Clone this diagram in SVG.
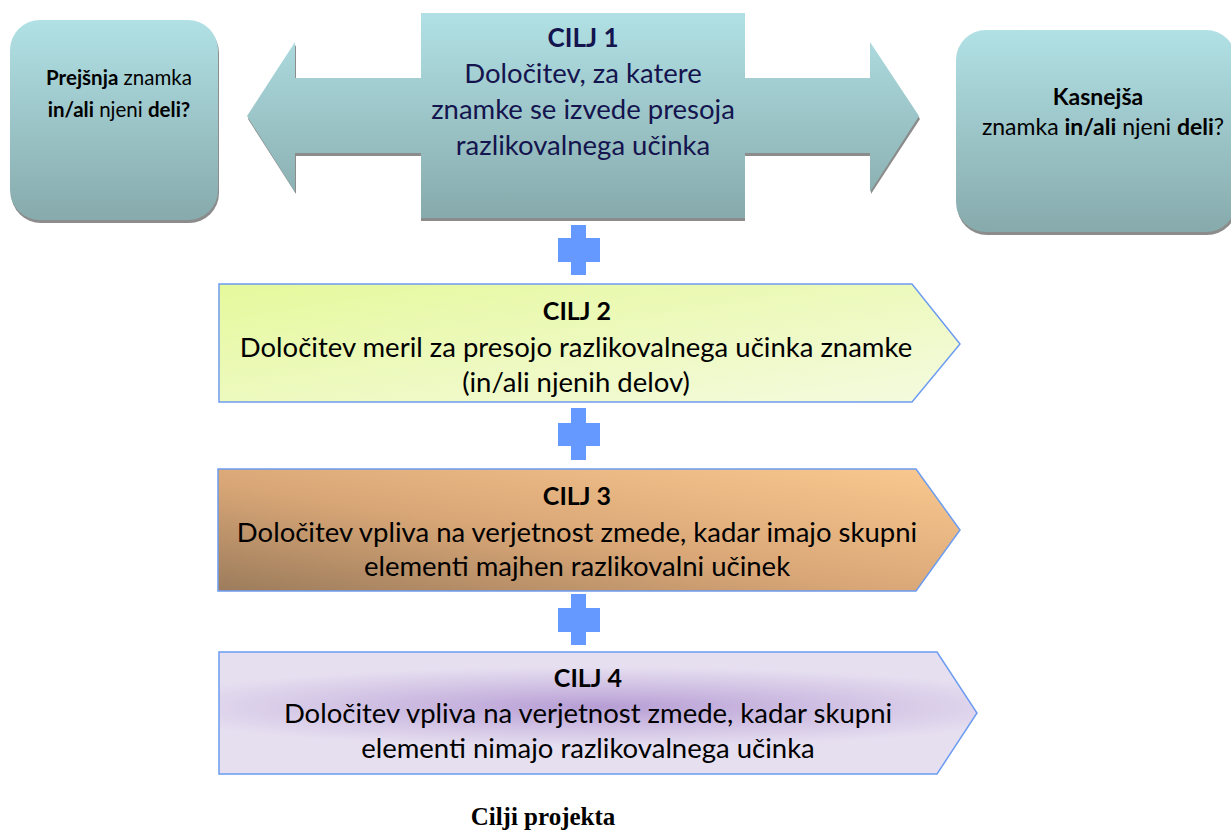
<svg xmlns="http://www.w3.org/2000/svg" width="1231" height="830" viewBox="0 0 1231 830">
<defs>
<linearGradient id="teal" x1="0" y1="0" x2="0" y2="1">
<stop offset="0" stop-color="#b1e1e5"/>
<stop offset="1" stop-color="#87aaac"/>
</linearGradient>
<linearGradient id="tealA" gradientUnits="userSpaceOnUse" x1="0" y1="13" x2="0" y2="218">
<stop offset="0" stop-color="#b1e1e5"/>
<stop offset="1" stop-color="#87aaac"/>
</linearGradient>
<linearGradient id="g2" x1="0" y1="0" x2="1" y2="1">
<stop offset="0" stop-color="#e6f99c"/>
<stop offset="1" stop-color="#f4fae0"/>
</linearGradient>
<linearGradient id="g3" x1="0" y1="1" x2="1" y2="0">
<stop offset="0" stop-color="#9c7c5c"/>
<stop offset="0.45" stop-color="#d9a777"/>
<stop offset="1" stop-color="#fac990"/>
</linearGradient>
<radialGradient id="g4" cx="0.5" cy="0.45" r="0.6" gradientTransform="translate(0.5 0.45) scale(1 0.55) translate(-0.5 -0.45)">
<stop offset="0" stop-color="#b69dd4"/>
<stop offset="0.35" stop-color="#c9b6df"/>
<stop offset="1" stop-color="#e6dff0"/>
</radialGradient>
<style>
.sh{fill:#8c8c8c}
.box{stroke:#6c9cf0;stroke-width:1.5}
.plus{fill:#6699ff}
.t{font-family:Lato,"Open Sans",sans-serif;text-anchor:middle;fill:#000}
.b{font-weight:bold}
.c1{fill:#14144e}
</style>
</defs>

<g id="left-box">
<rect class="sh" x="11" y="23" width="208" height="200" rx="30"/>
<rect x="10" y="20" width="208" height="200" rx="30" fill="url(#teal)"/>
<text class="t" font-size="20.5" x="119" y="85"><tspan class="b">Prejšnja</tspan> znamka</text>
<text class="t" font-size="20.5" x="119" y="117"><tspan class="b">in/ali</tspan> njeni <tspan class="b">deli?</tspan></text>
</g>

<g id="right-box">
<rect class="sh" x="957" y="33" width="280" height="202" rx="30"/>
<rect x="956" y="30" width="280" height="202" rx="30" fill="url(#teal)"/>
<text class="t b" font-size="23" x="1098" y="105">Kasnejša</text>
<text class="t" font-size="23" x="1103" y="135">znamka <tspan class="b">in/ali</tspan> njeni <tspan class="b">deli</tspan>?</text>
</g>

<g id="cilj1">
<polygon class="sh" points="248,119 296,194 296,156 871,156 871,194 920,119 871,45 871,81 296,81 296,45"/>
<polygon points="247,116 295,42 295,78 870,78 870,42 919,116 870,192 870,153 295,153 295,192" fill="url(#tealA)"/>
<rect class="sh" x="421" y="16" width="324" height="205"/>
<rect x="421" y="13" width="324" height="205" fill="url(#tealA)"/>
<text class="t c1 b" font-size="26" x="583" y="47">CILJ 1</text>
<text class="t c1" font-size="27.5" x="583" y="83">Določitev, za katere</text>
<text class="t c1" font-size="27.5" x="583" y="119">znamke se izvede presoja</text>
<text class="t c1" font-size="27.5" x="583" y="155">razlikovalnega učinka</text>
</g>

<g id="connectors">
<path class="plus" d="M571,225h15v13h14v24h-14v13h-15v-13h-13v-24h13z"/>
<path class="plus" d="M571,408h15v15h14v23h-14v14h-15v-14h-13v-23h13z"/>
<path class="plus" d="M571,594h15v14h14v24h-14v13h-15v-13h-13v-24h13z"/>
</g>

<g id="cilj2">
<polygon class="box" points="219,284 912,284 960,344 912,402 219,402" fill="url(#g2)"/>
<text class="t b" font-size="25" x="577" y="320">CILJ 2</text>
<text class="t" font-size="27.5" x="576" y="357">Določitev meril za presojo razlikovalnega učinka znamke</text>
<text class="t" font-size="27.5" x="576" y="392">(in/ali njenih delov)</text>
</g>

<g id="cilj3">
<polygon class="box" points="218,469 916,469 960,530 916,591 218,591" fill="url(#g3)"/>
<text class="t b" font-size="25" x="577" y="505">CILJ 3</text>
<text class="t" font-size="27.5" x="577" y="542">Določitev vpliva na verjetnost zmede, kadar imajo skupni</text>
<text class="t" font-size="27.5" x="577" y="576">elementi majhen razlikovalni učinek</text>
</g>

<g id="cilj4">
<polygon class="box" points="219,652 937,652 977,713 937,774 219,774" fill="url(#g4)"/>
<text class="t b" font-size="25" x="588" y="687">CILJ 4</text>
<text class="t" font-size="27.5" x="588" y="723">Določitev vpliva na verjetnost zmede, kadar skupni</text>
<text class="t" font-size="27.5" x="588" y="758">elementi nimajo razlikovalnega učinka</text>
</g>

<text x="543" y="825" font-family="Liberation Serif,serif" font-weight="bold" font-size="25" text-anchor="middle" fill="#000">Cilji projekta</text>
</svg>
